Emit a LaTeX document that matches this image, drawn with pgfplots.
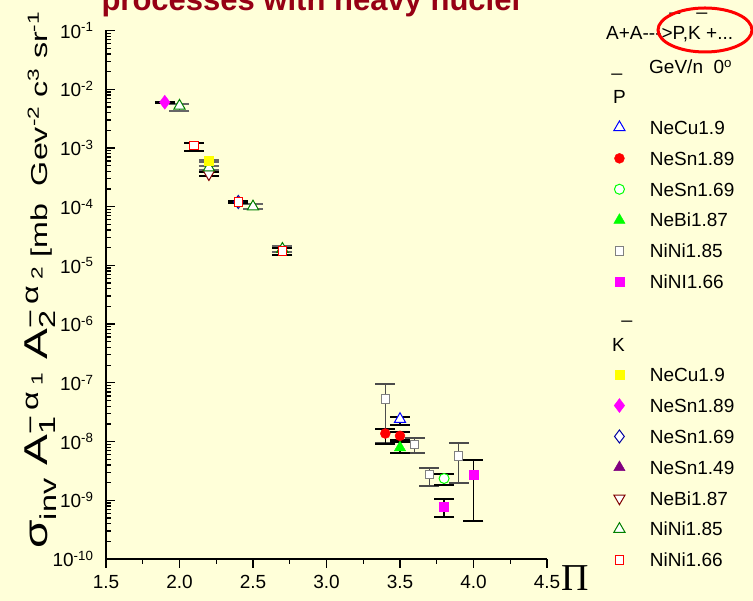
\documentclass[border=0pt]{standalone}
\usepackage{fontspec}
\setmainfont{Liberation Sans}[Ligatures=TeXOff]
\newfontfamily\serifpi{Liberation Serif}
\usepackage{pgfplots}
\pgfplotsset{compat=1.18}
\usepackage{pgfplotstable}
\definecolor{bg}{RGB}{255,255,217}
\definecolor{titlered}{RGB}{150,0,20}
\definecolor{lime}{RGB}{0,255,0}
\definecolor{dgreen}{RGB}{0,128,0}
\definecolor{navyb}{RGB}{0,0,160}
\definecolor{purp}{RGB}{128,0,128}
\definecolor{maroon}{RGB}{128,0,0}
\definecolor{mag}{RGB}{255,0,255}
\definecolor{yel}{RGB}{255,255,0}
\definecolor{grayq}{RGB}{128,128,128}

% anti-proton data
\pgfplotstableread{
x y ep em
3.5 2.4e-8 0.25e-8 0.5e-8
}\pNeCu
\pgfplotstableread{
x y ep em
3.4 1.37e-8 0.27e-8 0.47e-8
3.5 1.25e-8 0.19e-8 0.19e-8
}\pNeSnA
\pgfplotstableread{
x y ep em
3.8 2.35e-9 0.47e-9 0.54e-9
}\pNeSnB
\pgfplotstableread{
x y ep em
3.5 7.9e-9 2.0e-9 1.5e-9
}\pNeBi
\pgfplotstableread{
x y ep em
3.4 5.3e-8 4.2e-8 4.37e-8
3.6 9.0e-9 2.3e-9 2.7e-9
3.7 2.75e-9 0.81e-9 0.99e-9
3.9 5.7e-9 3.8e-9 3.7e-9
}\pNiNiA
\pgfplotstableread{
x y ep em
3.8 7.9e-10 2.6e-10 2.8e-10
4.0 2.75e-9 2.05e-9 2.3e-9
}\pNiNiB
% K- data
\pgfplotstableread{
x y ep em
2.2 6.0e-4 0.2e-4 0.2e-4
}\kNeCu
\pgfplotstableread{
x y ep em
1.9 6.0e-3 0.1e-3 0.1e-3
}\kNeSnA
\pgfplotstableread{
x y ep em
2.4 1.2e-4 0.05e-4 0.05e-4
}\kNeSnB
\pgfplotstableread{
x y ep em
2.2 3.6e-4 0.3e-4 0.3e-4
}\kNeBi
\pgfplotstableread{
x y ep em
2.0 5.2e-3 0.35e-3 0.9e-3
2.2 4.6e-4 0.4e-4 0.4e-4
2.5 1.0e-4 0.1e-4 0.1e-4
2.7 1.9e-5 0.2e-5 0.2e-5
}\kNiNiA
\pgfplotstableread{
x y ep em
2.1 1.1e-3 0.13e-3 0.2e-3
2.4 1.2e-4 0.06e-4 0.06e-4
2.7 1.75e-5 0.2e-5 0.25e-5
}\kNiNiB

\pgfplotsset{
  pNeCu/.style={color=blue, mark=triangle*, mark size=6.5pt, mark options={fill=white, line width=1pt}},
  pNeSnA/.style={color=red, mark=*, mark size=5pt, mark options={fill=red}},
  pNeSnB/.style={color=lime, mark=*, mark size=5pt, mark options={fill=white, line width=1pt}},
  pNeBi/.style={color=lime, mark=triangle*, mark size=6.5pt, mark options={fill=lime}},
  pNiNiA/.style={color=grayq, mark=square*, mark size=4.2pt, mark options={fill=white, line width=1pt}},
  pNiNiB/.style={color=mag, mark=square*, mark size=4.5pt, mark options={fill=mag}},
  kNeCu/.style={color=yel, mark=square*, mark size=4.5pt, mark options={fill=yel}},
  kNeSnA/.style={color=mag, mark=diamond*, mark size=7pt, mark options={fill=mag}},
  kNeSnB/.style={color=navyb, mark=diamond*, mark size=6.5pt, mark options={fill=white, line width=1pt}},
  kNeSnC/.style={color=purp, mark=triangle*, mark size=6.5pt, mark options={fill=purp}},
  kNeBi/.style={color=maroon, mark=triangle*, mark size=6.5pt, mark options={fill=white, rotate=180, line width=1pt}},
  kNiNiA/.style={color=dgreen, mark=triangle*, mark size=6.5pt, mark options={fill=white, line width=1pt}},
  kNiNiB/.style={color=red, mark=square*, mark size=4.2pt, mark options={fill=white, line width=1pt}},
  ebar/.style={only marks, forget plot,
    error bars/y dir=both, error bars/y explicit,
    error bars/error bar style={line width=1.3pt, #1},
    error bars/error mark options={rotate=90, mark size=10pt, line width=2pt, #1}},
  ebar/.default=black,
}
\newcommand\lgf{\fontsize{19}{22}\selectfont}

\begin{document}
\begin{tikzpicture}
\path[use as bounding box, fill=bg] (-106pt,-42pt) rectangle (647pt,559pt);
\begin{axis}[
  scale only axis, width=441pt, height=528.5pt,
  ymode=log, xmin=1.5, xmax=4.5, ymin=1e-10, ymax=1e-1,
  axis lines*=left,
  axis line style={line width=1.6pt, black},
  xtick align=outside, ytick align=inside,
  major tick length=9pt, minor tick length=5pt,
  every tick/.style={line width=1.3pt, black},
  xtick={1.5,2,2.5,3,3.5,4,4.5},
  xticklabels={1.5,2.0,2.5,3.0,3.5,4.0,4.5},
  minor x tick num=1,
  ytick={1e-10,1e-9,1e-8,1e-7,1e-6,1e-5,1e-4,1e-3,1e-2,1e-1},
  yticklabels={10\textsuperscript{-10},10\textsuperscript{-9},10\textsuperscript{-8},10\textsuperscript{-7},10\textsuperscript{-6},10\textsuperscript{-5},10\textsuperscript{-4},10\textsuperscript{-3},10\textsuperscript{-2},10\textsuperscript{-1}},
  minor ytick={2e-10,3e-10,4e-10,5e-10,6e-10,7e-10,8e-10,9e-10,
    2e-9,3e-9,4e-9,5e-9,6e-9,7e-9,8e-9,9e-9,
    2e-8,3e-8,4e-8,5e-8,6e-8,7e-8,8e-8,9e-8,
    2e-7,3e-7,4e-7,5e-7,6e-7,7e-7,8e-7,9e-7,
    2e-6,3e-6,4e-6,5e-6,6e-6,7e-6,8e-6,9e-6,
    2e-5,3e-5,4e-5,5e-5,6e-5,7e-5,8e-5,9e-5,
    2e-4,3e-4,4e-4,5e-4,6e-4,7e-4,8e-4,9e-4,
    2e-3,3e-3,4e-3,5e-3,6e-3,7e-3,8e-3,9e-3,
    2e-2,3e-2,4e-2,5e-2,6e-2,7e-2,8e-2,9e-2},
  tick label style={font=\lgf},
  yticklabel style={xshift=-9pt},
  xticklabel style={yshift=-4pt},
  legend cell align=left,
  legend image code/.code={\draw[#1] plot coordinates {(0pt,0pt)};},
  legend style={at={(axis description cs:1.1515,0.8458)}, anchor=north west,
    draw=none, fill=none, inner sep=0pt, outer sep=0pt,
    row sep=0pt, column sep=24.8pt,
    font=\lgf,
    nodes={inner sep=0pt, text height=22.25pt, text depth=8.65pt}},
]
% K- points
\addplot[kNeBi, ebar] table[x=x,y=y,y error plus=ep,y error minus=em] {\kNeBi};
\addplot[kNiNiA, ebar=black!60] table[x=x,y=y,y error plus=ep,y error minus=em] {\kNiNiA};
\addplot[kNeSnB, ebar] table[x=x,y=y,y error plus=ep,y error minus=em] {\kNeSnB};
\addplot[kNiNiB, ebar] table[x=x,y=y,y error plus=ep,y error minus=em] {\kNiNiB};
\addplot[kNeSnA, ebar] table[x=x,y=y,y error plus=ep,y error minus=em] {\kNeSnA};
\addplot[kNeCu, ebar=black!60] table[x=x,y=y,y error plus=ep,y error minus=em] {\kNeCu};
% anti-proton points
\addplot[pNiNiA, ebar=black!70] table[x=x,y=y,y error plus=ep,y error minus=em] {\pNiNiA};
\addplot[pNiNiB, ebar] table[x=x,y=y,y error plus=ep,y error minus=em] {\pNiNiB};
\addplot[pNeSnB, ebar] table[x=x,y=y,y error plus=ep,y error minus=em] {\pNeSnB};
\addplot[pNeBi, ebar] table[x=x,y=y,y error plus=ep,y error minus=em] {\pNeBi};
\addplot[pNeSnA, ebar] table[x=x,y=y,y error plus=ep,y error minus=em] {\pNeSnA};
\addplot[pNeCu, ebar] table[x=x,y=y,y error plus=ep,y error minus=em] {\pNeCu};
% legend
\addlegendimage{pNeCu}\addlegendentry{NeCu1.9}
\addlegendimage{pNeSnA}\addlegendentry{NeSn1.89}
\addlegendimage{pNeSnB}\addlegendentry{NeSn1.69}
\addlegendimage{pNeBi}\addlegendentry{NeBi1.87}
\addlegendimage{pNiNiA}\addlegendentry{NiNi1.85}
\addlegendimage{pNiNiB}\addlegendentry{NiNI1.66}
\addlegendimage{empty legend}\addlegendentry{}
\addlegendimage{empty legend}\addlegendentry{}
\addlegendimage{kNeCu}\addlegendentry{NeCu1.9}
\addlegendimage{kNeSnA}\addlegendentry{NeSn1.89}
\addlegendimage{kNeSnB}\addlegendentry{NeSn1.69}
\addlegendimage{kNeSnC}\addlegendentry{NeSn1.49}
\addlegendimage{kNeBi}\addlegendentry{NeBi1.87}
\addlegendimage{kNiNiA}\addlegendentry{NiNi1.85}
\addlegendimage{kNiNiB}\addlegendentry{NiNi1.66}
\end{axis}
% title (cut off at top)
\node[anchor=base west, text=titlered, font=\bfseries\fontsize{31}{31}\selectfont] at (-8pt,548pt) {processes with heavy nuclei};
% legend header
\node[anchor=base west, font=\lgf, inner sep=0pt] at (500pt,519.7pt) {A+A--->P,K +...};
\node[anchor=base, font=\lgf, inner sep=0pt] at (569pt,548pt) {\textunderscore};
\node[anchor=base, font=\lgf, inner sep=0pt] at (596pt,548pt) {\textunderscore};
\draw[red, line width=3pt] (599pt,529pt) ellipse [x radius=47pt, y radius=22pt];
\node[anchor=base west, font=\lgf, inner sep=0pt] at (543pt,485.7pt) {GeV/n\ \ 0\textsuperscript{o}};
\node[anchor=base, font=\lgf, inner sep=0pt] at (511pt,487pt) {\textunderscore};
\node[anchor=base west, font=\lgf, inner sep=0pt] at (507pt,455.7pt) {P};
\node[anchor=base, font=\lgf, inner sep=0pt] at (521pt,240pt) {\textunderscore};
\node[anchor=base west, font=\lgf, inner sep=0pt] at (506pt,207.3pt) {K};
% axis labels
\node[font=\serifpi\fontsize{38}{38}\selectfont] at (469pt,-19pt) {Π};
\node[rotate=90, anchor=base, inner sep=0pt] at (-58pt,279pt) {\scalebox{1.4}[1]{{\fontsize{33}{33}\selectfont σ\textsubscript{inv} A\rlap{\textsubscript{1}}\textsuperscript{−\,α\,\textsubscript{1}} A\rlap{\textsubscript{2}}\textsuperscript{−\,α\,\textsubscript{2}}}\hspace{6pt}{\fontsize{23}{23}\selectfont [mb\ \ Gev\textsuperscript{-2} c\textsuperscript{3} sr\textsuperscript{-1}}}};
\end{tikzpicture}
\end{document}
